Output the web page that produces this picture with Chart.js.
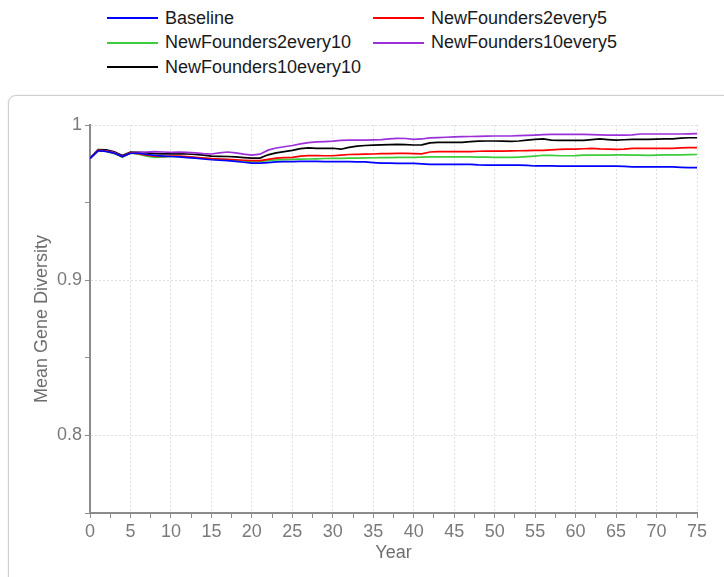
<!DOCTYPE html>
<html>
<head>
<meta charset="utf-8">
<title>Mean Gene Diversity</title>
<script src="https://cdn.jsdelivr.net/npm/chart.js@4/dist/chart.umd.min.js"></script>
<style>
  html, body { margin: 0; padding: 0; background: #fff; width: 724px; height: 577px; overflow: hidden;
    font-family: "Liberation Sans", Arial, sans-serif; }
  #legend { position: absolute; left: 107px; top: 6px; display: grid;
    grid-template-columns: 266px auto; font-size: 18px; color: #1a1a1a; }
  .item { display: flex; align-items: center; height: 24.5px; white-space: nowrap; }
  .swatch { width: 51px; height: 2px; margin-right: 7px; }
  #panel { position: absolute; left: 8px; top: 95px; width: 740px; height: 520px;
    border: 1px solid #cfcfcf; border-radius: 8px; box-shadow: 0 0 2px rgba(0,0,0,0.12); background: #fff; }
  #wrap { position: absolute; left: 0; top: 0; width: 724px; height: 577px; }
</style>
</head>
<body>
<div id="legend"></div>
<div id="panel"></div>
<div id="wrap"><canvas id="chart" width="724" height="577"></canvas></div>
<script>
// Simulation years
const years = Array.from({ length: 76 }, (_, i) => i);

const seriesNames = ['Baseline', 'NewFounders2every5', 'NewFounders2every10', 'NewFounders10every5', 'NewFounders10every10'];
const seriesColors = ['#0000ff', '#ff0000', '#3ccc3c', '#9b30d9', '#000000'];

// Mean gene diversity per year, one array per scenario
const baseline = [
  0.9785, 0.9834, 0.9830, 0.9818, 0.9797, 0.9818, 0.9818, 0.9810, 0.9804, 0.9800,
  0.9797, 0.9794, 0.9790, 0.9786, 0.9781, 0.9776, 0.9773, 0.9770, 0.9766, 0.9760,
  0.9754, 0.9754, 0.9758, 0.9762, 0.9764, 0.9764, 0.9766, 0.9766, 0.9765, 0.9764,
  0.9764, 0.9764, 0.9764, 0.9763, 0.9763, 0.9758, 0.9754, 0.9754, 0.9753, 0.9753,
  0.9753, 0.9750, 0.9746, 0.9746, 0.9746, 0.9746, 0.9746, 0.9746, 0.9743, 0.9742,
  0.9742, 0.9742, 0.9742, 0.9742, 0.9740, 0.9736, 0.9736, 0.9736, 0.9735, 0.9735,
  0.9735, 0.9735, 0.9735, 0.9735, 0.9735, 0.9735, 0.9733, 0.9730, 0.9730, 0.9730,
  0.9730, 0.9730, 0.9730, 0.9727, 0.9725, 0.9725
];
const nf2every5 = [
  0.9785, 0.9836, 0.9832, 0.9820, 0.9796, 0.9820, 0.9816, 0.9806, 0.9799, 0.9798,
  0.9800, 0.9799, 0.9796, 0.9792, 0.9787, 0.9783, 0.9781, 0.9779, 0.9776, 0.9773,
  0.9770, 0.9771, 0.9779, 0.9786, 0.9790, 0.9792, 0.9800, 0.9803, 0.9803, 0.9802,
  0.9802, 0.9806, 0.9810, 0.9811, 0.9812, 0.9813, 0.9815, 0.9816, 0.9817, 0.9817,
  0.9815, 0.9814, 0.9826, 0.9828, 0.9828, 0.9828, 0.9828, 0.9829, 0.9831, 0.9832,
  0.9832, 0.9832, 0.9833, 0.9834, 0.9835, 0.9836, 0.9837, 0.9840, 0.9843, 0.9844,
  0.9845, 0.9847, 0.9850, 0.9846, 0.9844, 0.9843, 0.9844, 0.9849, 0.9850, 0.9850,
  0.9850, 0.9850, 0.9850, 0.9852, 0.9854, 0.9854
];
const nf2every10 = [
  0.9785, 0.9834, 0.9830, 0.9816, 0.9792, 0.9818, 0.9812, 0.9800, 0.9792, 0.9793,
  0.9797, 0.9797, 0.9794, 0.9790, 0.9786, 0.9782, 0.9779, 0.9777, 0.9773, 0.9769,
  0.9764, 0.9765, 0.9771, 0.9775, 0.9777, 0.9779, 0.9780, 0.9781, 0.9782, 0.9784,
  0.9785, 0.9785, 0.9786, 0.9787, 0.9788, 0.9789, 0.9790, 0.9790, 0.9791, 0.9791,
  0.9792, 0.9793, 0.9795, 0.9795, 0.9795, 0.9795, 0.9795, 0.9794, 0.9793, 0.9793,
  0.9792, 0.9791, 0.9791, 0.9793, 0.9796, 0.9800, 0.9805, 0.9804, 0.9802, 0.9802,
  0.9803, 0.9806, 0.9806, 0.9806, 0.9806, 0.9807, 0.9807, 0.9806, 0.9806, 0.9804,
  0.9806, 0.9807, 0.9807, 0.9808, 0.9809, 0.9810
];
const nf10every5 = [
  0.9785, 0.9836, 0.9834, 0.9822, 0.9797, 0.9820, 0.9824, 0.9826, 0.9828, 0.9826,
  0.9824, 0.9825, 0.9824, 0.9820, 0.9815, 0.9813, 0.9820, 0.9826, 0.9820, 0.9812,
  0.9806, 0.9812, 0.9838, 0.9852, 0.9860, 0.9868, 0.9878, 0.9886, 0.9891, 0.9893,
  0.9896, 0.9901, 0.9903, 0.9903, 0.9903, 0.9904, 0.9906, 0.9910, 0.9914, 0.9913,
  0.9908, 0.9910, 0.9917, 0.9919, 0.9921, 0.9923, 0.9925, 0.9926, 0.9927, 0.9928,
  0.9929, 0.9929, 0.9929, 0.9931, 0.9933, 0.9935, 0.9938, 0.9940, 0.9940, 0.9940,
  0.9940, 0.9940, 0.9938, 0.9936, 0.9935, 0.9935, 0.9935, 0.9937, 0.9942, 0.9942,
  0.9942, 0.9942, 0.9942, 0.9942, 0.9943, 0.9944
];
const nf10every10 = [
  0.9785, 0.9842, 0.9840, 0.9828, 0.9804, 0.9825, 0.9824, 0.9820, 0.9816, 0.9814,
  0.9814, 0.9815, 0.9813, 0.9810, 0.9806, 0.9800, 0.9798, 0.9797, 0.9794, 0.9790,
  0.9786, 0.9787, 0.9808, 0.9820, 0.9828, 0.9836, 0.9848, 0.9853, 0.9850, 0.9850,
  0.9850, 0.9844, 0.9856, 0.9864, 0.9868, 0.9870, 0.9872, 0.9874, 0.9875, 0.9874,
  0.9871, 0.9872, 0.9885, 0.9888, 0.9888, 0.9888, 0.9888, 0.9893, 0.9896, 0.9897,
  0.9897, 0.9896, 0.9895, 0.9897, 0.9902, 0.9907, 0.9910, 0.9902, 0.9901, 0.9901,
  0.9901, 0.9901, 0.9906, 0.9910, 0.9906, 0.9903, 0.9905, 0.9907, 0.9907, 0.9908,
  0.9909, 0.9910, 0.9911, 0.9916, 0.9918, 0.9918
];

const seriesValues = [baseline, nf2every5, nf2every10, nf10every5, nf10every10];

// Axis labels shown on the value axis (others are minor ticks)
const yLabels = { 100: '1', 90: '0.9', 80: '0.8' };

// HTML legend in two columns
const legendEl = document.getElementById('legend');
seriesNames.forEach((name, i) => {
  const item = document.createElement('div');
  item.className = 'item';
  const sw = document.createElement('span');
  sw.className = 'swatch';
  sw.style.background = seriesColors[i];
  const tx = document.createElement('span');
  tx.textContent = name;
  item.appendChild(sw);
  item.appendChild(tx);
  legendEl.appendChild(item);
});

const datasets = seriesNames.map((name, i) => ({
  label: name,
  data: years.map((yr, j) => ({ x: yr, y: seriesValues[i][j] })),
  borderColor: seriesColors[i],
  backgroundColor: seriesColors[i],
  borderWidth: 1.7,
  pointRadius: 0,
  tension: 0,
  fill: false
}));

const tickFont = { family: '"Liberation Sans", Arial, sans-serif', size: 18 };
const gridGray = '#e0e0e0';
const axisGray = '#8c8c8c';

new Chart(document.getElementById('chart'), {
  type: 'line',
  data: { datasets },
  options: {
    responsive: false,
    animation: false,
    layout: { padding: { left: 27, top: 125, right: 27, bottom: 9 } },
    plugins: { legend: { display: false }, tooltip: { enabled: false } },
    scales: {
      x: {
        type: 'linear',
        min: 0, max: 75,
        afterFit: (s) => { s.height = 55; },
        ticks: {
          stepSize: 2.5, autoSkip: false, maxRotation: 0, padding: 3,
          color: '#7a7a7a', font: tickFont,
          callback: (v) => (Math.round(v * 10) % 50 === 0 ? String(v) : '')
        },
        grid: {
          color: (ctx) => (ctx.tick && Math.round(ctx.tick.value * 10) % 50 === 0 && ctx.tick.value !== 0 ? gridGray : 'rgba(0,0,0,0)'),
          tickColor: axisGray, tickLength: 5, lineWidth: 1
        },
        border: { color: axisGray, width: 2, dash: [2, 2] },
        title: { display: true, text: 'Year', color: '#6e6e6e', font: tickFont, padding: { top: 2, bottom: 4 } }
      },
      y: {
        min: 0.75, max: 1,
        afterFit: (s) => { s.width = 63; },
        ticks: {
          stepSize: 0.05, padding: 3, color: '#7a7a7a', font: tickFont,
          callback: (v) => yLabels[Math.round(v * 100)] || ''
        },
        grid: {
          color: (ctx) => {
            const k = ctx.tick ? Math.round(ctx.tick.value * 100) : 0;
            return (k === 100 || k === 90 || k === 80) ? gridGray : 'rgba(0,0,0,0)';
          },
          tickColor: axisGray, tickLength: 5, lineWidth: 1
        },
        border: { color: axisGray, width: 2, dash: [2, 2] },
        title: { display: true, text: 'Mean Gene Diversity', color: '#6e6e6e', font: tickFont, padding: { top: 4, bottom: 4 } }
      }
    }
  }
});
</script>
</body>
</html>
